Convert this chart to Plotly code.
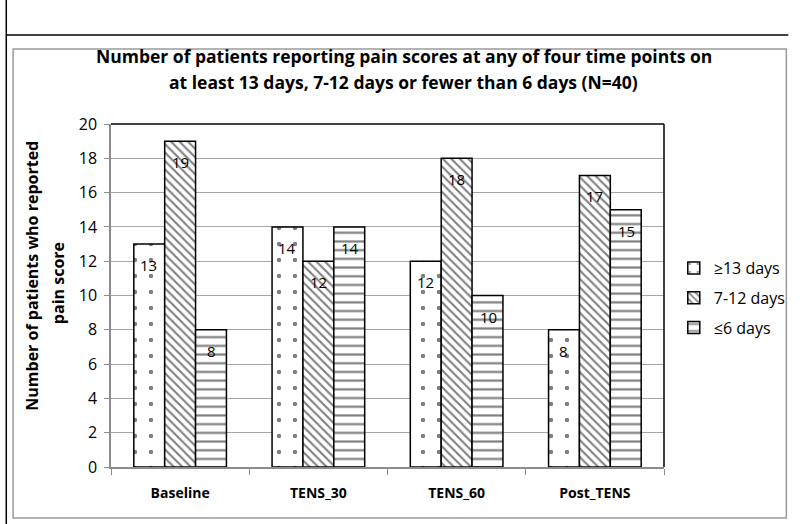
import plotly.graph_objects as go

categories = ["Baseline", "TENS_30", "TENS_60", "Post_TENS"]
series_names = ["≥13 days", "7-12 days", "≤6 days"]
v_ge13 = [13, 14, 12, 8]
v_7_12 = [19, 12, 18, 17]
v_le6 = [8, 14, 10, 15]
y_ticks = [0, 2, 4, 6, 8, 10, 12, 14, 16, 18, 20]
title_lines = ["Number of patients reporting pain scores at any of four time points on",
               "at least 13 days, 7-12 days or fewer than 6 days (N=40)"]
ytitle_lines = ["Number of patients who reported", "pain score"]

FONT = "Open Sans, Lato, Liberation Sans, sans-serif"
W, H = 803, 524
L, R, T, B = 111, 676, 124, 467
BARGAP = 0.33

fig = go.Figure()
patterns = [
    dict(shape=".", size=16, solidity=0.06, fgcolor="black", bgcolor="white"),
    dict(shape="\\", size=6, solidity=0.35, fgcolor="black", bgcolor="white"),
    dict(shape="-", size=8.7, solidity=0.25, fgcolor="black", bgcolor="white"),
]
all_vals = [v_ge13, v_7_12, v_le6]
for i, (name, vals, pat) in enumerate(zip(series_names, all_vals, patterns)):
    fig.add_trace(go.Bar(
        x=categories, y=vals, name=name, legendgroup=f"g{i}",
        marker=dict(color="white", pattern=pat, line=dict(color="black", width=1.5)),
    ))

def px(x):
    return (x - L) / (R - L)

def py(y):
    return (B - y) / (B - T)

# data labels (inside top of each bar)
cat_w = (R - L) / len(categories)
bar_w = cat_w * (1 - BARGAP) / len(series_names)
annotations = []
for i, vals in enumerate(all_vals):
    for c, v in zip(categories, vals):
        annotations.append(dict(x=c, y=v, xref="x", yref="y", text=str(v), showarrow=False,
                                xanchor="center", yanchor="middle",
                                xshift=(i - 1) * bar_w, yshift=-21,
                                font=dict(family=FONT, size=15, color="black")))
# title lines
for line, ypx in zip(title_lines, [56, 82]):
    annotations.append(dict(x=px(410), y=py(ypx), xref="paper", yref="paper",
                            text=f"<b>{line}</b>", showarrow=False, xanchor="center", yanchor="middle",
                            font=dict(family=FONT, size=17.5, color="black")))
# y-axis title lines
for line, xp, yp in zip(ytitle_lines, [30, 57], [276, 283]):
    annotations.append(dict(x=px(xp), y=py(yp), xref="paper", yref="paper", text=f"<b>{line}</b>",
                            showarrow=False, textangle=-90, xanchor="center", yanchor="middle",
                            font=dict(family=FONT, size=16, color="black")))

shapes = [
    dict(type="line", xref="paper", yref="paper", x0=px(4), x1=px(803), y0=py(35), y1=py(35),
         line=dict(color="black", width=1.5)),
    dict(type="line", xref="paper", yref="paper", x0=px(4), x1=px(4), y0=py(0), y1=py(524),
         line=dict(color="black", width=1.5)),
    dict(type="rect", xref="paper", yref="paper", x0=px(11), x1=px(801), y0=py(49), y1=py(518),
         line=dict(color="#9a9a9a", width=1.5)),
    dict(type="line", xref="paper", yref="paper", x0=0, x1=1, y0=1, y1=1,
         line=dict(color="black", width=1.5)),
    dict(type="line", xref="paper", yref="paper", x0=1, x1=1, y0=0, y1=1,
         line=dict(color="black", width=1.5)),
]

fig.update_layout(
    width=W, height=H,
    margin=dict(l=L, r=W - R, t=T, b=H - B, pad=0),
    paper_bgcolor="white", plot_bgcolor="white",
    font=dict(family=FONT, size=15, color="black"),
    barmode="group", bargap=BARGAP, bargroupgap=0,
    xaxis=dict(showline=True, linecolor="#8c8c8c", linewidth=1.5, ticks="outside",
               tickson="boundaries", ticklen=6, tickcolor="#8c8c8c",
               tickvals=categories, ticktext=[f"<b>{c}</b>" for c in categories],
               tickfont=dict(family=FONT, size=14, color="black"),
               ticklabelstandoff=12, showgrid=False),
    yaxis=dict(range=[0, 20], tickvals=y_ticks, showline=True, linecolor="#8c8c8c", linewidth=1.5,
               ticks="outside", ticklen=5, tickcolor="#8c8c8c",
               gridcolor="#a6a6a6", gridwidth=1.2,
               tickfont=dict(family=FONT, size=16, color="black"),
               ticklabelstandoff=4),
    legend=dict(x=px(686), xanchor="left", y=py(298), yanchor="middle",
                font=dict(family=FONT, size=16, color="black"),
                itemwidth=30, tracegroupgap=6, traceorder="grouped",
                bgcolor="rgba(0,0,0,0)"),
    shapes=shapes,
    annotations=annotations,
    showlegend=True,
)

fig.write_html("out.html", config={"displayModeBar": False},
               post_script="document.body.style.margin='0';document.body.style.padding='0';")
